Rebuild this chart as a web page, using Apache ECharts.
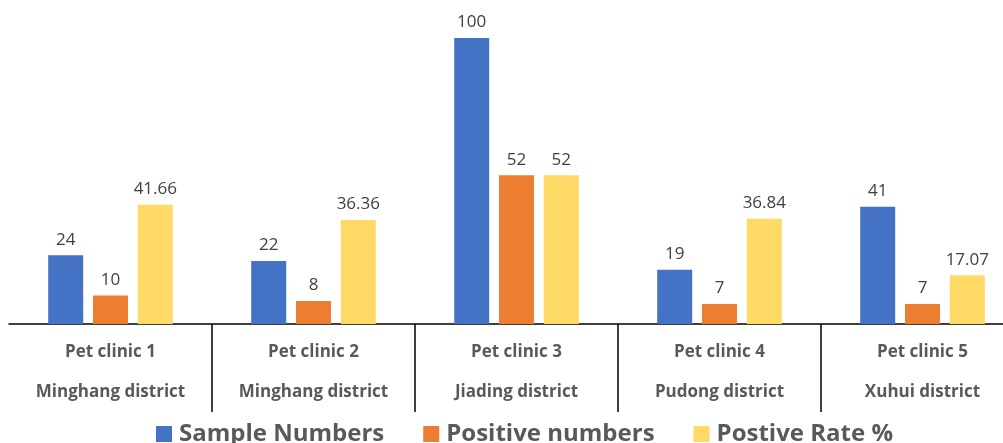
<!DOCTYPE html>
<html><head><meta charset="utf-8">
<script src="https://cdn.jsdelivr.net/npm/echarts@6/dist/echarts.min.js"></script>
<style>html,body{margin:0;padding:0;background:#fff;overflow:hidden;width:1003px;height:443px}#c{width:1024px;height:443px}</style>
</head><body><div id="c"></div>
<script>
const clinics = ['Pet clinic 1','Pet clinic 2','Pet clinic 3','Pet clinic 4','Pet clinic 5'];
const districts = ['Minghang district','Minghang district','Jiading district','Pudong district','Xuhui district'];
const sampleNumbers = [24, 22, 100, 19, 41];
const positiveNumbers = [10, 8, 52, 7, 7];
const positiveRate = [41.66, 36.36, 52, 36.84, 17.07];
const seriesNames = ['Sample Numbers','Positive numbers','Postive Rate %'];
const colors = ['#4472C4','#ED7D31','#FFD966'];

const categories = clinics.map((c,i)=>c+'\n'+districts[i]);
const chart = echarts.init(document.getElementById('c'));
const labelCfg = {show:true, position:'top', distance:7, color:'#404040', fontSize:17, fontFamily:'Open Sans'};
chart.setOption({
  animation:false,
  color: colors,
  grid:{left:9, right:0, top:38, bottom:119, containLabel:false},
  legend:{bottom:-8, left:151, itemWidth:16, itemHeight:16, itemGap:39,
    icon:'rect',
    textStyle:{fontSize:24, fontWeight:'bold', color:'#595959', fontFamily:'Open Sans', padding:[0,0,0,2]},
    data: seriesNames},
  xAxis:{type:'category', data:categories,
    axisLine:{lineStyle:{color:'#000', width:1.5}},
    axisTick:{show:true, length:88, interval:function(i){return i>0;}, lineStyle:{color:'#000', width:1.5}},
    axisLabel:{interval:0, margin:8, lineHeight:40, fontSize:17, fontWeight:'bold', color:'#595959', fontFamily:'Open Sans'}},
  yAxis:{type:'value', min:0, max:100, show:false, splitLine:{show:false}},
  series:[
    {name:seriesNames[0], type:'bar', data:sampleNumbers, barWidth:35, barGap:'28%', label:labelCfg},
    {name:seriesNames[1], type:'bar', data:positiveNumbers, barWidth:35, barGap:'28%', label:labelCfg},
    {name:seriesNames[2], type:'bar', data:positiveRate, barWidth:35, barGap:'28%', label:labelCfg}
  ]
});
</script></body></html>
